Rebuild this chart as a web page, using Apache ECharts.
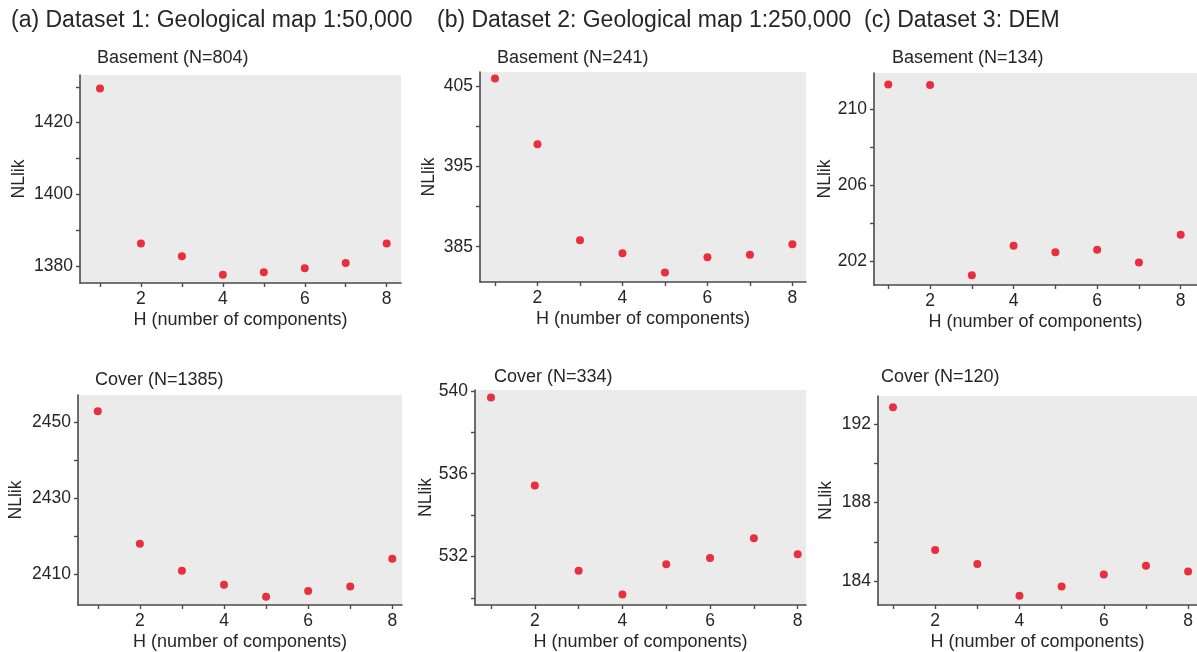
<!DOCTYPE html>
<html>
<head>
<meta charset="utf-8">
<script src="https://cdn.jsdelivr.net/npm/echarts@6/dist/echarts.min.js"></script>
<style>
html,body{margin:0;padding:0;background:#fff;}
#chart{width:1197px;height:652px;}
</style>
</head>
<body>
<div id="chart"></div>
<script>
// ---- data ----
const H = [1, 2, 3, 4, 5, 6, 7, 8];
const d1Basement = [1429.5, 1386.2, 1382.7, 1377.5, 1378.2, 1379.3, 1380.8, 1386.2];
const d2Basement = [406.0, 397.8, 385.8, 384.2, 381.8, 383.7, 384.0, 385.3];
const d3Basement = [211.33, 211.3, 201.28, 202.84, 202.5, 202.63, 201.95, 203.41];
const d1Cover = [2452.9, 2418.05, 2410.95, 2407.26, 2404.1, 2405.6, 2406.8, 2414.1];
const d2Cover = [539.69, 535.43, 531.31, 530.16, 531.62, 531.92, 532.88, 532.1];
const d3Cover = [192.85, 185.59, 184.88, 183.27, 183.74, 184.35, 184.8, 184.5];

// ---- tick labels ----
const xTicks = [1, 2, 3, 4, 5, 6, 7, 8];
const xLabels = [2, 4, 6, 8];
const yTicks1 = [1380, 1390, 1400, 1410, 1420, 1430];
const yLabels1 = [1380, 1400, 1420];
const yTicks2 = [385, 390, 395, 400, 405];
const yLabels2 = [385, 395, 405];
const yTicks3 = [202, 204, 206, 208, 210];
const yLabels3 = [202, 206, 210];
const yTicks4 = [2410, 2420, 2430, 2440, 2450];
const yLabels4 = [2410, 2430, 2450];
const yTicks5 = [530, 532, 534, 536, 538, 540];
const yLabels5 = [532, 536, 540];
const yTicks6 = [184, 186, 188, 190, 192];
const yLabels6 = [184, 188, 192];

// ---- texts ----
const headers = ['(a) Dataset 1: Geological map 1:50,000', '(b) Dataset 2: Geological map 1:250,000', '(c) Dataset 3: DEM'];
const subtitles = ['Basement (N=804)', 'Basement (N=241)', 'Basement (N=134)', 'Cover (N=1385)', 'Cover (N=334)', 'Cover (N=120)'];
const xName = 'H (number of components)';
const yName = 'NLlik';

// ---- layout (positions / ranges) ----
const panels = [
  {data: d1Basement, yt: yTicks1, yl: yLabels1, grid: [80, 75, 321, 208], xr: [0.512, 8.35], yr: [1375.2, 1433.3], sub: [97, 49], ng: 52},
  {data: d2Basement, yt: yTicks2, yl: yLabels2, grid: [480, 72, 326, 210], xr: [0.647, 8.32], yr: [380.6, 406.8], sub: [497, 49], ng: 42},
  {data: d3Basement, yt: yTicks3, yl: yLabels3, grid: [874, 73, 323, 212], xr: [0.658, 8.39], yr: [200.77, 211.93], sub: [892, 49], ng: 39},
  {data: d1Cover, yt: yTicks4, yl: yLabels4, grid: [78, 395, 324, 210], xr: [0.53, 8.23], yr: [2401.9, 2457.2], sub: [95, 371], ng: 53},
  {data: d2Cover, yt: yTicks5, yl: yLabels5, grid: [475, 390, 331, 218], xr: [0.635, 8.19], yr: [529.65, 540.05], sub: [494, 368], ng: 35},
  {data: d3Cover, yt: yTicks6, yl: yLabels6, grid: [878, 396, 319, 213], xr: [0.645, 8.21], yr: [182.8, 193.42], sub: [881, 368], ng: 43}
];
const headerPos = [[11, 9], [437, 9], [864, 9]];

const FONT = 'Liberation Sans, Arial, sans-serif';
const TXT = '#262626';
const AX = '#4a4a4a';

const titles = [];
headers.forEach((t, i) => titles.push({
  text: t, left: headerPos[i][0], top: headerPos[i][1], padding: 0,
  textStyle: {fontFamily: FONT, fontSize: 23, fontWeight: 'normal', color: TXT}
}));
panels.forEach((p, i) => titles.push({
  text: subtitles[i], left: p.sub[0], top: p.sub[1], padding: 0,
  textStyle: {fontFamily: FONT, fontSize: 18, fontWeight: 'normal', color: TXT}
}));

const plain = v => String(v);
const grids = [], xAxes = [], yAxes = [], series = [];
panels.forEach((p, i) => {
  grids.push({left: p.grid[0], top: p.grid[1], width: p.grid[2], height: p.grid[3],
    show: true, backgroundColor: '#ebebeb', borderWidth: 0});
  xAxes.push({
    type: 'value', gridIndex: i, min: p.xr[0], max: p.xr[1],
    name: xName, nameLocation: 'middle', nameGap: 28,
    nameTextStyle: {fontFamily: FONT, fontSize: 18, color: TXT},
    axisLine: {show: true, onZero: false, lineStyle: {color: AX, width: 1.6}},
    axisTick: {show: true, length: 4, customValues: xTicks, lineStyle: {color: AX, width: 1.4}},
    axisLabel: {customValues: xLabels, formatter: plain, margin: 7, fontFamily: FONT, fontSize: 17.5, color: TXT},
    splitLine: {show: false}
  });
  yAxes.push({
    type: 'value', gridIndex: i, min: p.yr[0], max: p.yr[1],
    name: yName, nameLocation: 'middle', nameGap: p.ng,
    nameTextStyle: {fontFamily: FONT, fontSize: 17.5, color: TXT},
    axisLine: {show: true, onZero: false, lineStyle: {color: AX, width: 1.6}},
    axisTick: {show: true, length: 4, customValues: p.yt, lineStyle: {color: AX, width: 1.4}},
    axisLabel: {customValues: p.yl, formatter: plain, margin: 7, fontFamily: FONT, fontSize: 17.5, color: TXT},
    splitLine: {show: false}
  });
  series.push({
    type: 'scatter', xAxisIndex: i, yAxisIndex: i,
    data: H.map((h, k) => [h, p.data[k]]),
    symbolSize: 8, itemStyle: {color: '#e60012'}, silent: true
  });
});

const chart = echarts.init(document.getElementById('chart'), null, {renderer: 'canvas'});
chart.setOption({
  animation: false,
  backgroundColor: '#ffffff',
  title: titles,
  grid: grids,
  xAxis: xAxes,
  yAxis: yAxes,
  series: series
});
</script>
</body>
</html>
